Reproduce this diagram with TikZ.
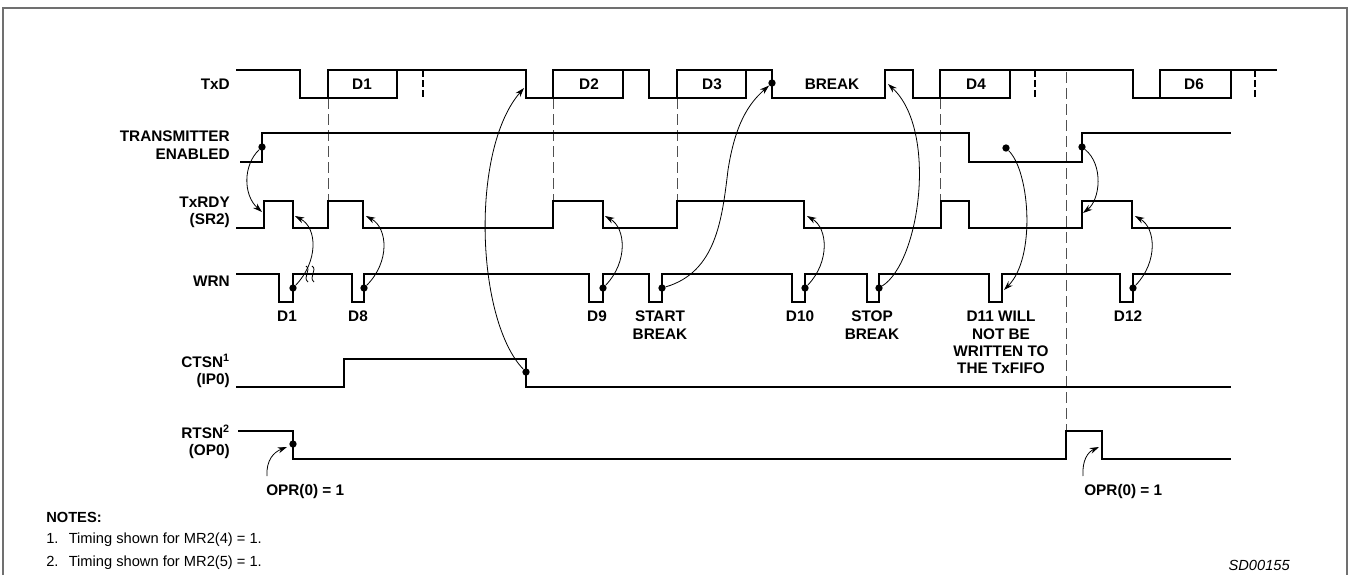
\documentclass[tikz,border=0pt]{standalone}
\usepackage{fontspec}
\setmainfont{Liberation Sans}
\usetikzlibrary{arrows.meta}
\definecolor{FrameGray}{HTML}{707070}
\definecolor{GuideGray}{HTML}{505050}

\begin{document}
\begin{tikzpicture}[x=0.75pt, y=-0.75pt,
  wave/.style   = {line width=1.6pt},
  bitsep/.style = {line width=1.6pt, dash pattern=on 5pt off 2.6pt},
  guide/.style  = {line width=0.6pt, GuideGray, dash pattern=on 8pt off 4pt},
  link/.style   = {-{Stealth[length=7pt,width=4.5pt]}, line width=0.6pt},
  dot/.style    = {circle, fill, inner sep=0pt, minimum size=5.5pt},
  sig/.style    = {font=\bfseries\fontsize{11.5}{13}\selectfont, align=right, anchor=east, inner sep=0pt},
  lbl/.style    = {font=\bfseries\fontsize{11.5}{13}\selectfont, align=center, anchor=north, inner sep=0pt},
  note/.style   = {font=\fontsize{11}{13}\selectfont, anchor=west, inner sep=0pt}
]
  \useasboundingbox (0,0) rectangle (1349,575);
  \draw[FrameGray, line width=1.2pt] (3,575) -- (3,8) -- (1347,8) -- (1347,575);

  % signal names
  \node[sig] (nTxD)  at (230,84)  {TxD};
  \node[sig] (nTen)  at (230,145) {TRANSMITTER\\ENABLED};
  \node[sig] (nRdy)  at (230,212) {TxRDY\\(SR2)};
  \node[sig] (nWrn)  at (230,281) {WRN};
  \node[sig] (nCts)  at (230,371) {CTSN\textsuperscript{1}\\(IP0)};
  \node[sig] (nRts)  at (230,442) {RTSN\textsuperscript{2}\\(OP0)};

  % guides
  \draw[guide] (328,98) -- (328,201);
  \draw[guide] (553,98) -- (553,201);
  \draw[guide] (677,98) -- (677,201);
  \draw[guide] (940,98) -- (940,201);
  \draw[guide] (1066,72) -- (1066,431);

  % TxD
  \draw[wave] (236,70) -| (300,98) -| (328,70) -| (526,98) -| (553,70) -| (649,98) -| (677,70)
    -| (772,98) -| (885,70) -| (913,98) -| (940,70) -| (1133,98) -| (1160,70) -- (1277,70);
  \foreach \a/\b in {328/397, 553/623, 677/746, 940/1010, 1160/1231}
    \draw[wave] (\a,98) -| (\b,70);
  \foreach \x in {423, 1035, 1255}
    \draw[bitsep] (\x,70) -- (\x,98);
  \node[lbl, anchor=center] (bD1) at (362,84) {D1};
  \node[lbl, anchor=center] (bD2) at (589,84) {D2};
  \node[lbl, anchor=center] (bD3) at (712,84) {D3};
  \node[lbl, anchor=center] (bBrk) at (832,84) {BREAK};
  \node[lbl, anchor=center] (bD4) at (976,84) {D4};
  \node[lbl, anchor=center] (bD6) at (1194,84) {D6};

  % TRANSMITTER ENABLED
  \draw[wave] (240,162) -| (262,133) -| (969,162) -| (1082,133) -- (1231,133);

  % TxRDY
  \draw[wave] (236,228) -| (264,201) -| (293,228) -| (328,201) -| (363,228) -| (553,201)
    -| (603,228) -| (677,201) -| (804,228) -| (941,201) -| (969,228) -| (1082,201)
    -| (1132,228) -- (1231,228);

  % WRN
  \draw[wave] (236,274) -| (279,302) -| (293,274) -| (352,302) -| (364,274) -| (589,302)
    -| (603,274) -| (649,302) -| (662,274) -| (792,302) -| (805,274) -| (867,302)
    -| (879,274) -| (989,302) -| (1002,274) -| (1120,302) -| (1133,274) -- (1231,274);
  \draw[line width=0.6pt] (306,266) .. controls (312,270) and (302,277) .. (308,282);
  \draw[line width=0.6pt] (312,266) .. controls (318,270) and (308,277) .. (314,282);
  \node[lbl] (wD1)  at (287,311)  {D1};
  \node[lbl] (wD8)  at (358,311)  {D8};
  \node[lbl] (wD9)  at (597,311)  {D9};
  \node[lbl] (wSt)  at (660,311)  {START\\BREAK};
  \node[lbl] (wD10) at (800,311)  {D10};
  \node[lbl] (wSp)  at (872,311)  {STOP\\BREAK};
  \node[lbl] (wD11) at (1001,311) {D11 WILL\\NOT BE\\WRITTEN TO\\THE TxFIFO};
  \node[lbl] (wD12) at (1128,311) {D12};

  % CTSN
  \draw[wave] (236,387) -| (344,359) -| (526,387) -- (1231,387);

  % RTSN
  \draw[wave] (238,431) -| (293,459) -| (1066,431) -| (1102,459) -- (1231,459);
  \node[lbl, anchor=west] (oprA) at (266,492) {OPR(0) = 1};
  \node[lbl, anchor=west] (oprB) at (1084,492) {OPR(0) = 1};

  % dots and arrow targets
  \node[dot] (teOn)  at (262,147)  {};
  \node[dot] (wr1)   at (293,288)  {};
  \node[dot] (wr8)   at (364,288)  {};
  \node[dot] (ctOff) at (526,372)  {};
  \node[dot] (wr9)   at (603,288)  {};
  \node[dot] (wrSt)  at (662,288)  {};
  \node[dot] (txBrk) at (772,83)   {};
  \node[dot] (wr10)  at (805,288)  {};
  \node[dot] (wrSp)  at (879,288)  {};
  \node[dot] (teOff) at (1006,148) {};
  \node[dot] (teOn2) at (1082,147) {};
  \node[dot] (wr12)  at (1133,288) {};
  \node[dot] (rtOff) at (293,444)  {};
  \coordinate (rdyA) at (262,212);
  \coordinate (rdyB) at (295,216);
  \coordinate (rdyC) at (366,216);
  \coordinate (rdyD) at (605,216);
  \coordinate (rdyE) at (807,216);
  \coordinate (rdyF) at (1083,213);
  \coordinate (rdyG) at (1135,216);
  \coordinate (txFall) at (524,88);
  \coordinate (txRise) at (888,84);
  \coordinate (wr11) at (1004,290);
  \coordinate (oprA0) at (267,476);
  \coordinate (oprB0) at (1083,476);
  \coordinate (rtFall) at (287,447);
  \coordinate (rtFall2) at (1099,447);

  % causes
  \draw[link] (teOn) .. controls (243,165) and (243,195) .. (rdyA);
  \draw[link] (wr1) .. controls (318,262) and (318,228) .. (rdyB);
  \draw[link] (wr8) .. controls (390,262) and (388,228) .. (rdyC);
  \draw[link] (ctOff) .. controls (476,320) and (470,150) .. (txFall);
  \draw[link] (wr9) .. controls (628,262) and (626,228) .. (rdyD);
  \draw[link] (wrSt) .. controls (716,272) and (722,220) .. (728,170)
    .. controls (735,125) and (748,104) .. (txBrk);
  \draw[link] (wr10) .. controls (830,262) and (828,228) .. (rdyE);
  \draw[link] (wrSp) .. controls (920,262) and (938,130) .. (txRise);
  \draw[link] (teOff) .. controls (1030,172) and (1036,258) .. (wr11);
  \draw[link] (teOn2) .. controls (1104,165) and (1100,200) .. (rdyF);
  \draw[link] (wr12) .. controls (1158,262) and (1156,228) .. (rdyG);
  \draw[link] (oprA0) .. controls (266,460) and (274,452) .. (rtFall);
  \draw[link] (oprB0) .. controls (1082,460) and (1088,452) .. (rtFall2);

  % notes
  \node[note, font=\bfseries\fontsize{11}{13}\selectfont] (nNotes) at (46,517) {NOTES:};
  \node[note] (nOne) at (46,540) {1.\hspace{0.7em}Timing shown for MR2(4) = 1.};
  \node[note] (nTwo) at (46,563) {2.\hspace{0.7em}Timing shown for MR2(5) = 1.};
  \node[note, anchor=east, font=\itshape\fontsize{11}{13}\selectfont] (nId) at (1290,565) {SD00155};
\end{tikzpicture}
\end{document}
